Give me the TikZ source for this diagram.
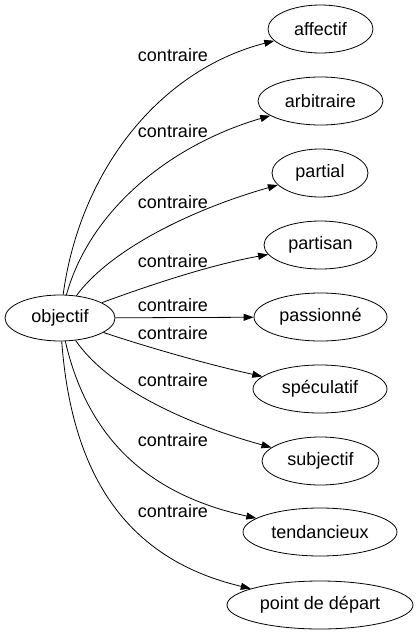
\documentclass[tikz,border=0pt]{standalone}
\usepackage{fontspec}
\setmainfont{Liberation Sans}
\usetikzlibrary{shapes.geometric,arrows.meta}
\begin{document}
\begin{tikzpicture}[x=1pt,y=-1pt,
  nd/.style={draw,ellipse,inner sep=0pt,minimum height=48pt,font=\fontsize{18}{20}\selectfont},
  lbl/.style={font=\fontsize{18}{20}\selectfont,inner sep=0pt},
  edge/.style={-{Triangle[length=10pt,width=7pt]}},
  line width=0.8pt]
\useasboundingbox (0,0) rectangle (419,635);
\node[nd,minimum width=110pt,minimum height=46pt] (o) at (60,318) {objectif};
\node[nd,minimum width=105pt] (n1) at (320.5,29) {affectif};
\node[nd,minimum width=125pt] (n2) at (320.5,101) {arbitraire};
\node[nd,minimum width=96pt] (n3) at (320,173) {partial};
\node[nd,minimum width=113pt] (n4) at (320.5,245) {partisan};
\node[nd,minimum width=133pt] (n5) at (320.5,317) {passionné};
\node[nd,minimum width=134pt] (n6) at (320,389) {spéculatif};
\node[nd,minimum width=117pt] (n7) at (320.5,461) {subjectif};
\node[nd,minimum width=154pt] (n8) at (320,532) {tendancieux};
\node[nd,minimum width=186pt] (n9) at (320,605) {point de départ};
\draw[edge] (o) .. controls (80,170) and (160,70) .. (n1);
\draw[edge] (o) .. controls (90,210) and (170,145) .. (n2);
\draw[edge] (o) .. controls (110,250) and (190,210) .. (n3);
\draw[edge] (o) .. controls (150,285) and (210,265) .. (n4);
\draw[edge] (o) -- (n5);
\draw[edge] (o) .. controls (150,348) and (210,365) .. (n6);
\draw[edge] (o) .. controls (110,390) and (190,425) .. (n7);
\draw[edge] (o) .. controls (88,440) and (150,495) .. (n8);
\draw[edge] (o) .. controls (72,480) and (130,560) .. (n9);
\node[lbl] (l1) at (173,55) {contraire};
\node[lbl] (l2) at (173,131) {contraire};
\node[lbl] (l3) at (173,202) {contraire};
\node[lbl] (l4) at (173,261) {contraire};
\node[lbl] (l5) at (173,305) {contraire};
\node[lbl] (l6) at (173,333) {contraire};
\node[lbl] (l7) at (173,380) {contraire};
\node[lbl] (l8) at (173,440) {contraire};
\node[lbl] (l9) at (173,511) {contraire};
\end{tikzpicture}
\end{document}
